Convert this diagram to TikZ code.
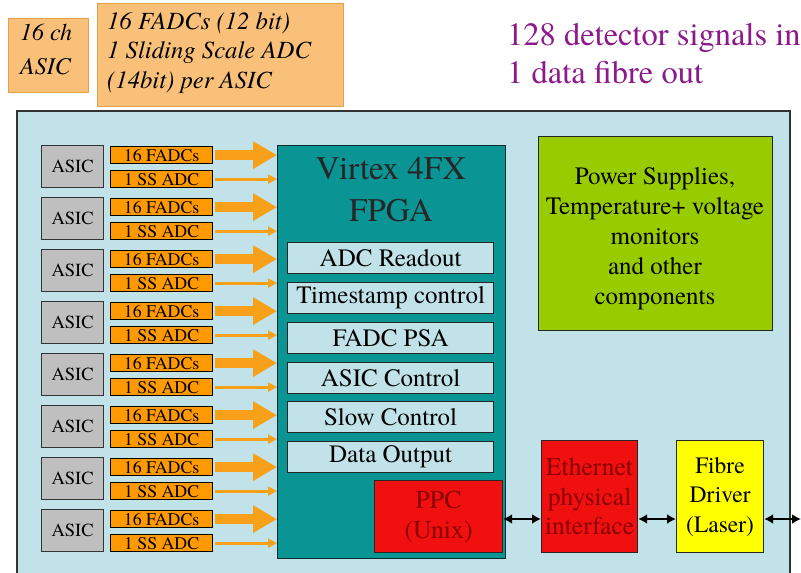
\documentclass[tikz,border=0pt]{standalone}
\usepackage{fontspec}
\setmainfont{texgyretermes-regular.otf}[ItalicFont=texgyretermes-italic.otf, BoldFont=texgyretermes-bold.otf]
\usetikzlibrary{arrows.meta}
\definecolor{paleor}{HTML}{F9C07A}
\definecolor{paleorline}{HTML}{E8A048}
\definecolor{titlepurple}{HTML}{8C1A8C}
\definecolor{boardblue}{HTML}{C0E2E8}
\definecolor{tealfpga}{HTML}{0A9494}
\definecolor{lblorange}{HTML}{FF9900}
\definecolor{arrorange}{HTML}{F9A01B}
\definecolor{asicgray}{HTML}{BFBFBF}
\definecolor{ppcred}{HTML}{F01010}
\definecolor{darkred}{HTML}{8B0000}
\definecolor{psgreen}{HTML}{99CC00}
\definecolor{fibyellow}{HTML}{FFFF00}
\tikzset{
  notebox/.style={draw=paleorline, fill=paleor, line width=1pt, inner sep=0pt, anchor=north west},
  asicbox/.style={draw=black!80, fill=asicgray, line width=1.2pt, minimum width=62pt, minimum height=42pt, inner sep=0pt, anchor=north west, font=\fontsize{18.5}{20}\selectfont},
  lbl/.style={draw=black, fill=lblorange, line width=1.2pt, minimum width=102pt, minimum height=17pt, inner sep=0pt, text height=12.5pt, text depth=0pt, anchor=north west, font=\fontsize{17.8}{20}\selectfont},
  bigarrow/.style={draw=arrorange, line width=10pt, -{Triangle[length=24pt,width=26pt]}, shorten <=2pt},
  thinarrow/.style={draw=arrorange, line width=2.8pt, -{Triangle[length=9pt,width=9pt]}, shorten <=2pt},
  subbox/.style={draw=black!85, fill=boardblue, line width=1.2pt, minimum width=206pt, minimum height=31pt, inner sep=0pt, anchor=north west, font=\fontsize{25}{27}\selectfont},
  blk/.style={draw=black!85, line width=1.2pt, inner sep=0pt, anchor=north west, align=center},
  dbl/.style={draw=black, line width=2.5pt, {Latex[length=9pt,width=10pt]}-{Latex[length=9pt,width=10pt]}}
}
\begin{document}
\begin{tikzpicture}[x=1pt,y=-1pt]
\useasboundingbox (0,0) rectangle (801,573);
\fill[white] (0,0) rectangle (801,573);
% top notes
\node[notebox, minimum width=80pt, minimum height=74pt] (ch) at (8,18) {};
\node[anchor=north west, inner sep=0pt, align=left, font=\fontsize{24}{34}\selectfont\itshape] (chtxt) at (20,24) {16 ch\\ASIC};
\node[notebox, minimum width=246pt, minimum height=103pt] (fadcnote) at (97,3) {};
\node[anchor=north west, inner sep=0pt, align=left, font=\fontsize{24.7}{29.5}\selectfont\itshape] (notetxt) at (107,12) {16 FADCs (12 bit)\\1 Sliding Scale ADC\\(14bit) per ASIC};
\node[anchor=north west, inner sep=0pt, align=left, text=titlepurple, font=\fontsize{32.5}{38}\selectfont] (title) at (507,23) {128 detector signals in\\1 data fibre out};
% board
\fill[boardblue] (17,111) rectangle (790,573);
\draw[black!80, line width=1.2pt] (17,574) -- (17,111) -- (790,111) -- (790,574);
% FPGA
\node[blk, fill=tealfpga, draw=black!70!tealfpga, minimum width=228pt, minimum height=413pt] (fpga) at (277,145) {};
\node[anchor=north, inner sep=0pt, align=center, text=black!85, font=\fontsize{33}{42}\selectfont] (fpgatitle) at (391,157) {Virtex 4FX\\FPGA};
\node[subbox] (s1) at (287,242) {ADC Readout};
\node[subbox] (s2) at (287,282) {Timestamp control};
\node[subbox] (s3) at (287,322) {FADC PSA};
\node[subbox] (s4) at (287,362) {ASIC Control};
\node[subbox] (s5) at (287,401) {Slow Control};
\node[subbox] (s6) at (287,441) {Data Output};
\node[blk, fill=ppcred, text=darkred, minimum width=128pt, minimum height=72pt, font=\fontsize{25.8}{30}\selectfont] (ppc) at (374,480) {PPC\\(Unix)};
% ASIC rows
\foreach \i in {0,...,7} {
  \pgfmathsetmacro{\yy}{145+52*\i}
  \node[asicbox] (asic\i) at (41,\yy) {ASIC};
  \node[lbl] (fadc\i) at (110,\yy+1) {16 FADCs};
  \node[lbl] (ss\i) at (110,\yy+25) {1 SS ADC};
  \draw[bigarrow] (fadc\i.east) -- (fadc\i.east -| fpga.west);
  \draw[thinarrow] (ss\i.east) -- (ss\i.east -| fpga.west);
}
% power supplies
\node[blk, fill=psgreen, minimum width=234pt, minimum height=194pt] (ps) at (538,136) {};
\node[inner sep=0pt, align=center, font=\fontsize{25}{30}\selectfont] (pstxt) at (655,239) {Power Supplies,\\Temperature+ voltage\\monitors\\and other\\components};
% ethernet and fibre
\node[blk, fill=ppcred, text=darkred, minimum width=96pt, minimum height=112pt, font=\fontsize{25.5}{29.5}\selectfont] (eth) at (541,440) {Ethernet\\physical\\interface};
\node[blk, fill=fibyellow, minimum width=87pt, minimum height=112pt, font=\fontsize{23.5}{29.5}\selectfont] (fib) at (676,440) {Fibre\\Driver\\(Laser)};
\coordinate (ay) at (0,519);
\coordinate (fibout) at (801,519);
\draw[dbl] (ppc.east |- ay) -- (eth.west |- ay);
\draw[dbl] (eth.east |- ay) -- (fib.west |- ay);
\draw[dbl] (fib.east |- ay) -- (fibout);
\end{tikzpicture}
\end{document}
